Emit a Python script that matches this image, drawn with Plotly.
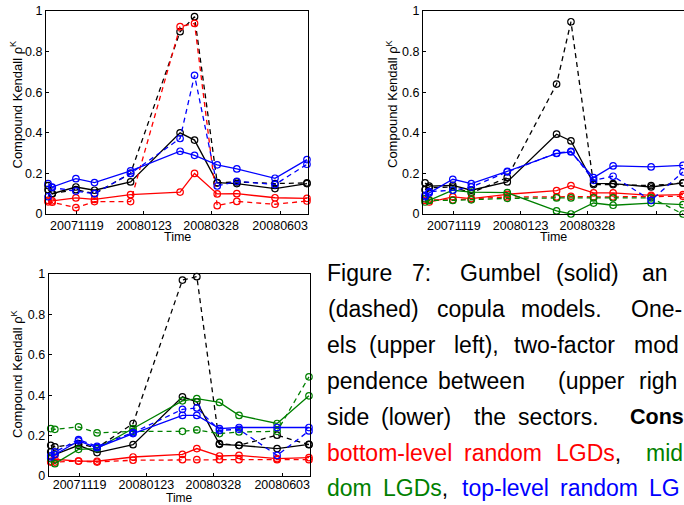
import plotly.graph_objects as go

W, H = 684, 505

dates = ["2007-10-22", "2007-10-26", "2007-11-18", "2007-12-06", "2008-01-10",
         "2008-02-27", "2008-03-12", "2008-04-03", "2008-04-22", "2008-05-29", "2008-06-29"]

tick_dates = ["2007-11-19", "2008-01-23", "2008-03-28", "2008-06-03"]
tick_text = ["20071119", "20080123", "20080328", "20080603"]
ytick_vals = [0, 0.2, 0.4, 0.6, 0.8, 1]
ytick_text = ["0", "0.2", "0.4", "0.6", "0.8", "1"]

# ---- Panel 1: one-factor models ----
p1_black_solid = [0.12, 0.10, 0.133, 0.117, 0.158, 0.40, 0.364, 0.155, 0.15, 0.125, 0.15]
p1_black_dash = [0.14, 0.10, 0.12, 0.10, 0.20, 0.898, 0.972, 0.153, 0.158, 0.15, 0.153]
p1_red_solid = [0.067, 0.065, 0.079, 0.072, 0.095, 0.108, 0.20, 0.099, 0.10, 0.08, 0.077]
p1_red_dash = [0.06, 0.058, 0.031, 0.061, 0.061, 0.923, 0.939, 0.041, 0.062, 0.048, 0.064]
p1_blue_solid = [0.15, 0.133, 0.174, 0.155, 0.212, 0.309, 0.289, 0.242, 0.222, 0.176, 0.268]
p1_blue_dash = [0.085, 0.13, 0.113, 0.10, 0.20, 0.372, 0.683, 0.138, 0.161, 0.145, 0.245]

# ---- Panel 2: two-factor, dependence between sectors ----
p2_black_solid = [0.153, 0.137, 0.141, 0.117, 0.158, 0.393, 0.36, 0.151, 0.15, 0.133, 0.153]
p2_black_dash = [0.12, 0.13, 0.133, 0.104, 0.18, 0.64, 0.947, 0.145, 0.145, 0.14, 0.153]
p2_red_solid = [0.067, 0.059, 0.084, 0.076, 0.097, 0.115, 0.14, 0.104, 0.104, 0.092, 0.095]
p2_red_dash = [0.075, 0.07, 0.07, 0.074, 0.084, 0.084, 0.087, 0.084, 0.084, 0.087, 0.087]
p2_green_solid = [0.059, 0.067, 0.117, 0.108, 0.105, 0.015, 0.0, 0.054, 0.043, 0.054, 0.046]
p2_green_dash = [0.075, 0.067, 0.067, 0.07, 0.077, 0.079, 0.079, 0.079, 0.079, 0.079, 0.0]
p2_blue_solid = [0.092, 0.104, 0.171, 0.15, 0.21, 0.298, 0.306, 0.179, 0.237, 0.232, 0.24]
p2_blue_dash = [0.085, 0.11, 0.117, 0.133, 0.207, 0.30, 0.309, 0.166, 0.186, 0.067, 0.207]

# ---- Panel 3: two-factor, dependence inside sectors ----
p3_black_solid = [0.119, 0.106, 0.152, 0.116, 0.155, 0.392, 0.367, 0.157, 0.152, 0.136, 0.157]
p3_black_dash = [0.152, 0.144, 0.16, 0.139, 0.26, 0.97, 0.987, 0.16, 0.152, 0.202, 0.155]
p3_red_solid = [0.073, 0.083, 0.074, 0.073, 0.094, 0.107, 0.136, 0.099, 0.102, 0.086, 0.091]
p3_red_dash = [0.069, 0.069, 0.074, 0.069, 0.078, 0.081, 0.081, 0.081, 0.081, 0.081, 0.081]
p3_green_solid = [0.086, 0.061, 0.132, 0.136, 0.235, 0.372, 0.383, 0.364, 0.30, 0.26, 0.397]
p3_green_dash = [0.235, 0.231, 0.243, 0.213, 0.221, 0.221, 0.228, 0.21, 0.218, 0.221, 0.491]
p3_blue_solid = [0.094, 0.106, 0.174, 0.14, 0.21, 0.30, 0.30, 0.235, 0.24, 0.24, 0.24]
p3_blue_dash = [0.10, 0.119, 0.18, 0.147, 0.215, 0.33, 0.337, 0.226, 0.231, 0.102, 0.223]

BLACK, RED, GREEN, BLUE = "#000000", "#ff0000", "#008000", "#0000ff"

panels = [
    ("x", "y", [(p1_black_solid, BLACK, "solid"), (p1_black_dash, BLACK, "dash"),
                (p1_red_solid, RED, "solid"), (p1_red_dash, RED, "dash"),
                (p1_blue_solid, BLUE, "solid"), (p1_blue_dash, BLUE, "dash")]),
    ("x2", "y2", [(p2_black_solid, BLACK, "solid"), (p2_black_dash, BLACK, "dash"),
                  (p2_red_solid, RED, "solid"), (p2_red_dash, RED, "dash"),
                  (p2_green_solid, GREEN, "solid"), (p2_green_dash, GREEN, "dash"),
                  (p2_blue_solid, BLUE, "solid"), (p2_blue_dash, BLUE, "dash")]),
    ("x3", "y3", [(p3_black_solid, BLACK, "solid"), (p3_black_dash, BLACK, "dash"),
                  (p3_red_solid, RED, "solid"), (p3_red_dash, RED, "dash"),
                  (p3_green_solid, GREEN, "solid"), (p3_green_dash, GREEN, "dash"),
                  (p3_blue_solid, BLUE, "solid"), (p3_blue_dash, BLUE, "dash")]),
]

fig = go.Figure()
for xa, ya, series in panels:
    for vals, col, style in series:
        fig.add_trace(go.Scatter(
            x=dates, y=vals, xaxis=xa, yaxis=ya, mode="lines+markers",
            line=dict(color=col, width=1.3, dash="solid" if style == "solid" else "5px,4px"),
            marker=dict(symbol="circle-open", size=6.5, color=col, line=dict(width=1.2, color=col)),
            cliponaxis=False, showlegend=False, hoverinfo="skip"))

def px(x):
    return x / W

def py(y):
    return 1 - y / H

AXFONT = dict(family="Liberation Sans, Arial, sans-serif", size=12.5, color="#000000")
xrange_ = ["2007-10-20", "2008-06-30"]

boxes = {
    "1": (46, 308, 11, 214),
    "2": (423, 684, 11, 214),
    "3": (48.7, 310, 274, 476),
}

layout = dict(width=W, height=H, margin=dict(l=0, r=0, t=0, b=0, pad=0, autoexpand=False),
              paper_bgcolor="white", plot_bgcolor="white", showlegend=False)
for k, (x0, x1, y0, y1) in boxes.items():
    sfx = "" if k == "1" else k
    layout["xaxis" + sfx] = dict(
        domain=[px(x0), px(x1)], anchor="y" + sfx, type="date", range=xrange_,
        tickmode="array", tickvals=tick_dates, ticktext=tick_text,
        ticks="inside", ticklen=3, tickwidth=1, tickcolor="black",
        ticklabelstandoff=(-3 if k == "3" else 0),
        showline=True, linecolor="black", linewidth=1, mirror=True, automargin=False,
        showgrid=False, zeroline=False, tickfont=AXFONT)
    layout["yaxis" + sfx] = dict(
        domain=[py(y1), py(y0)], anchor="x" + sfx, range=[0, 1],
        tickmode="array", tickvals=ytick_vals, ticktext=ytick_text,
        ticks="inside", ticklen=3, tickwidth=1, tickcolor="black",
        showline=True, linecolor="black", linewidth=1, mirror=True, automargin=False,
        showgrid=False, zeroline=False, tickfont=AXFONT)
fig.update_layout(**layout)

anns = []
# axis titles
for cx, cy, fs in [(177, 236.5, 12.5), (553.5, 236.5, 12.5), (179.5, 497.8, 12)]:
    anns.append(dict(text="Time", x=px(cx), y=py(cy), xref="paper", yref="paper",
                     xanchor="center", yanchor="middle", showarrow=False, borderpad=0,
                     font=dict(family="Liberation Sans, Arial, sans-serif", size=fs, color="black")))
for cx, cy in [(16.5, 105), (392, 104), (17, 374)]:
    anns.append(dict(text="Compound Kendall ρ<sup>K</sup>", x=px(cx), y=py(cy), xref="paper", yref="paper",
                     xanchor="center", yanchor="middle", textangle=-90, showarrow=False,
                     font=dict(family="Liberation Sans, Arial, sans-serif", size=13, color="black")))

# caption (justified lines: words positioned individually)
CAPFAM = "Liberation Sans, Arial, sans-serif"
G = "<span style='color:#008000'>%s</span>"
R = "<span style='color:#ff0000'>%s</span>"
B = "<span style='color:#0000ff'>%s</span>"
caption_lines = [
    (273.3, [(326, "Figure"), (410.7, "7:"), (459, "Gumbel"), (555, "(solid)"), (640.7, "an")]),
    (309.3, [(327, "(dashed)"), (435.7, "copula"), (520, "models."), (630, "One-")]),
    (345.0, [(326, "els"), (368, "(upper"), (453, "left),"), (513, "two-factor"), (633, "mod")]),
    (380.7, [(326, "pendence"), (436.7, "between"), (557, "(upper"), (638, "righ")]),
    (416.7, [(326, "side"), (380, "(lower)"), (472.7, "the"), (516.7, "sectors."), (629, "<b>Cons</b>")]),
    (452.7, [(326, R % "bottom-level"), (463, R % "random"), (555, (R % "LGDs") + ","), (645, G % "mid")]),
    (488.3, [(326, G % "dom"), (382, (G % "LGDs") + ","), (460.7, B % "top-level"), (559, B % "random"),
             (648, B % "LG")]),
]
for cy, words in caption_lines:
    for wx, wt in words:
        size = 21.5 if wt.startswith("<b>") else 23
        anns.append(dict(text=wt, x=px(wx), y=py(cy), xref="paper", yref="paper",
                         xanchor="left", yanchor="middle", showarrow=False,
                         font=dict(family=CAPFAM, size=size, color="#000000"),
                         borderpad=0))
fig.update_layout(annotations=anns)

fig.write_html("out.html")
